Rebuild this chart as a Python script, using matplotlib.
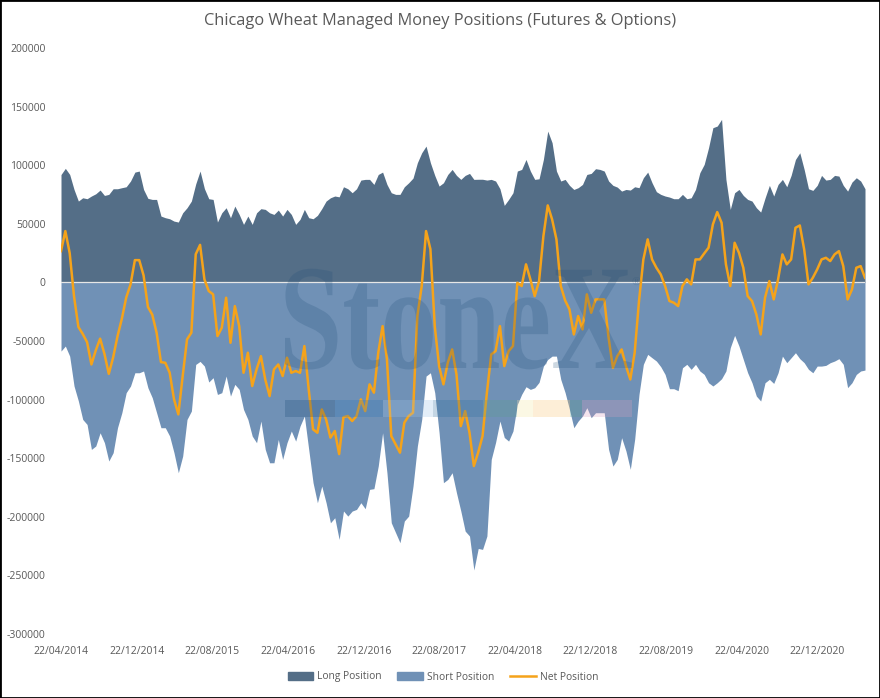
import numpy as np
import pandas as pd
import matplotlib
matplotlib.use('Agg')
import matplotlib.pyplot as plt
from matplotlib.patches import Rectangle, Patch, PathPatch
from matplotlib.lines import Line2D
from matplotlib.textpath import TextPath
from matplotlib.font_manager import FontProperties
from matplotlib.transforms import Affine2D

plt.rcParams['font.family'] = ['Open Sans', 'DejaVu Sans']

# fortnightly readings, first report 22/04/2014
start_date = '2014-04-22'

long_pos = [92000, 97300, 92100, 79300, 69400, 72200, 71400, 73700, 75600, 78800,
            74200, 75100, 79900, 79900, 80800, 81600, 86500, 94100, 95000, 79300,
            71700, 70800, 70800, 56600, 55200, 54300, 52300, 51500, 59400, 63700,
            69400, 84000, 95000, 80000, 71400, 70800, 51500, 59400, 63700, 55200,
            65100, 58000, 49500, 56600, 49500, 59400, 62900, 62300, 59400, 58000,
            61700, 56600, 62300, 58000, 49500, 53800, 62300, 55200, 54300, 57200,
            62900, 69400, 72200, 73700, 73000, 81600, 79900, 76500, 79900, 87300,
            87900, 87900, 83600, 92100, 94100, 83600, 76500, 75100, 75100, 81600,
            85000, 89000, 102100, 110600, 116300, 102100, 91300, 82200, 85000, 92100,
            96400, 91300, 87900, 91300, 93000, 87900, 88000, 88000, 87300, 87900,
            86500, 79900, 65700, 70800, 76500, 95000, 96400, 104900, 95000, 87900,
            88400, 104900, 129100, 119200, 95000, 86500, 87900, 82800, 79300, 80800,
            83600, 92100, 93000, 97000, 96400, 95000, 86500, 82800, 81300, 77900,
            79300, 78800, 81600, 80800, 89300, 94100, 85000, 77400, 75100, 73700,
            72800, 71400, 71400, 75100, 71400, 72200, 79300, 93600, 100700, 114900,
            132000, 133400, 139100, 87900, 62300, 76500, 79300, 74200, 70800, 69400,
            63700, 60000, 72000, 82800, 73700, 83600, 87900, 81600, 91300, 104900,
            110600, 96400, 79900, 78500, 82800, 91300, 87300, 87900, 91300, 90700,
            82800, 77900, 85600, 89300, 86500, 79900]

short_pos = [-58600, -54300, -62900, -88400, -101200, -116900, -121200, -142500, -139600, -128300,
             -136800, -152400, -145300, -124000, -111200, -94100, -88400, -77100, -77100, -75600,
             -89900, -98400, -111200, -124000, -124000, -131100, -145300, -162400, -148200, -116900,
             -109800, -70000, -67400, -71400, -85000, -81300, -95600, -94100, -79900, -97000,
             -87000, -91300, -108400, -116900, -131100, -136800, -118300, -142500, -153900, -153900,
             -134000, -151000, -136800, -126800, -135400, -122600, -114000, -142500, -170900, -188000,
             -173800, -188000, -205100, -200800, -219300, -195000, -199400, -195100, -193700, -188000,
             -193100, -176600, -176000, -156700, -128300, -162400, -205100, -213600, -222100, -203600,
             -199400, -173800, -139600, -116900, -79900, -77100, -94100, -128300, -170900, -168100,
             -162400, -179500, -195100, -212200, -216400, -245400, -227000, -227800, -216400, -151000,
             -136500, -118300, -132300, -135400, -126800, -104100, -95500, -89000, -91300, -89900,
             -85300, -71400, -65700, -62900, -62900, -82800, -94100, -108400, -124000, -118300,
             -114000, -106900, -115400, -111200, -111200, -111200, -142500, -156700, -151000, -132500,
             -143900, -159500, -133900, -95500, -69900, -61400, -64300, -67100, -71900, -78500,
             -90700, -90700, -92400, -72800, -69900, -74200, -69900, -75600, -78500, -85600,
             -88400, -85600, -82200, -75600, -55700, -45200, -54300, -65700, -77100, -85600,
             -97000, -101200, -85600, -82700, -86200, -77100, -62900, -68500, -64300, -60000,
             -65100, -68500, -74200, -77100, -71400, -71400, -70800, -68500, -67100, -65100,
             -69900, -89800, -85600, -78500, -75600, -74800]

net_pos = [26700, 43800, 25000, -12000, -38000, -44000, -51000, -70000, -58000, -48000,
           -61000, -78000, -64000, -46000, -31000, -13000, -1800, 19000, 19000, 6000,
           -21000, -27500, -43000, -68000, -68600, -77000, -99600, -112600, -79900, -48600,
           -42900, 24000, 32000, 2600, -7400, -10200, -45800, -38700, -13100, -51500,
           -20200, -37300, -77100, -60000, -88400, -74200, -62900, -82800, -97000, -74200,
           -70000, -79900, -64300, -77100, -75600, -77100, -54300, -91300, -125400, -128300,
           -108400, -116900, -132500, -126800, -146500, -115000, -114000, -118300, -114000, -99800,
           -109800, -87000, -94100, -60000, -37300, -65700, -131100, -138200, -145300, -119700,
           -114000, -111200, -28700, -3100, 43800, 28400, -37300, -71400, -87000, -68500,
           -57200, -78500, -122600, -109800, -128300, -156700, -145000, -131100, -94100, -61400,
           -58600, -37300, -71400, -58600, -54300, -300, -3100, 15400, 2600, -11700,
           1100, 39500, 65700, 53800, 36700, -3100, -15400, -23000, -44400, -28700,
           -40100, -10200, -25900, -14500, -14500, -14500, -47200, -72800, -62900, -57200,
           -71400, -82800, -60000, -15900, 19600, 36700, 19600, 12500, 6800, -3100,
           -15900, -17300, -20200, -3100, 2600, -1700, 19600, 19600, 24700, 29600,
           49500, 60000, 50900, 15400, -3100, 33800, 25300, 12500, -11700, -15900,
           -27300, -44400, -13000, 1100, -14500, 2600, 23900, 15400, 19600, 46600,
           48600, 28200, -1700, 4000, 11100, 19600, 21000, 18200, 23900, 26700,
           13900, -14500, -6000, 12500, 13900, 4000]

tick_labels = ['22/04/2014', '22/12/2014', '22/08/2015', '22/04/2016', '22/12/2016',
               '22/08/2017', '22/04/2018', '22/12/2018', '22/08/2019', '22/04/2020',
               '22/12/2020']
y_ticks = [200000, 150000, 100000, 50000, 0, -50000, -100000, -150000, -200000, -250000, -300000]

dates = pd.date_range(start_date, periods=len(long_pos), freq='14D')
tick_dates = pd.to_datetime(tick_labels, format='%d/%m/%Y')

long_col = '#546E87'
short_col = '#7091B6'
net_col = '#F5A31A'
txt_col = '#595959'
mark_col = '#1F4E79'

W, H = 880, 698
fig = plt.figure(figsize=(W / 100, H / 100), dpi=100)
ax = fig.add_axes([61 / W, 1 - 634 / H, (865 - 61) / W, (634 - 48) / H])

ax.fill_between(dates, 0, long_pos, color=long_col, lw=0)
ax.fill_between(dates, 0, short_pos, color=short_col, lw=0)
ax.axhline(0, color='#E6E6E6', lw=0.9)

# StoneX watermark, squeezed serif word drawn as a path
serif = FontProperties(family=['Liberation Serif', 'DejaVu Serif'], weight='bold')
word = TextPath((0, 0), 'StoneX', size=1, prop=serif)
bb = word.get_extents()
sx = (632 - 285) / W / bb.width
sy = (368 - 266) / H / 0.68
word_tr = Affine2D().translate(-bb.x0, 0).scale(sx, sy).translate(285 / W, 1 - 368 / H)
fig.patches.append(PathPatch(word_tr.transform_path(word), transform=fig.transFigure,
                             facecolor=mark_col, edgecolor='none', alpha=0.22, zorder=3))
reg = TextPath((0, 0), '\u00ae', size=1, prop=serif)
reg_tr = Affine2D().scale(12 / W, 12 / H).translate(632 / W, 1 - 285 / H)
fig.patches.append(PathPatch(reg_tr.transform_path(reg), transform=fig.transFigure,
                             facecolor=mark_col, edgecolor='none', alpha=0.22, zorder=3))
band = [(285, 335, '#1F4E79'), (335, 383, '#2E75B6'), (383, 433, '#9DC3E6'),
        (433, 483, '#2E6F9E'), (483, 517, '#5E9C8E'), (517, 533, '#F2E6A0'),
        (533, 570, '#F8C471'), (570, 582, '#5E9C8E'), (582, 632, '#D9A0C0')]
for x0, x1, c in band:
    fig.patches.append(Rectangle((x0 / W, 1 - 417 / H), (x1 - x0) / W, 17 / H,
                                 transform=fig.transFigure, color=c, alpha=0.28,
                                 lw=0, zorder=3))

ax.plot(dates, net_pos, color=net_col, lw=1.8, zorder=4)

ax.set_xlim(dates[0], dates[-1])
ax.set_ylim(-300000, 200000)
ax.set_yticks(y_ticks)
ax.set_yticklabels([str(v) for v in y_ticks])
ax.set_xticks(tick_dates)
ax.set_xticklabels(tick_labels)
ax.tick_params(axis='both', length=0, labelsize=7.5, colors=txt_col)
ax.tick_params(axis='y', pad=11)
ax.tick_params(axis='x', pad=9)
for s in ax.spines.values():
    s.set_visible(False)

fig.text(440 / W, 1 - 21 / H, 'Chicago Wheat Managed Money Positions (Futures & Options)',
         ha='center', va='center', fontsize=11.8, color=txt_col)

handles = [Patch(color=long_col, label='Long Position'),
           Patch(color=short_col, label='Short Position'),
           Line2D([], [], color=net_col, lw=1.8, label='Net Position')]
fig.legend(handles=handles, loc='center', bbox_to_anchor=(443 / W, 1 - 677 / H), ncol=3,
           frameon=False, fontsize=7.4, labelcolor=txt_col, handlelength=2.5,
           handleheight=0.7, columnspacing=1.5, handletextpad=0.4)

fig.patches.append(Rectangle((0, 0), 1, 1, transform=fig.transFigure, fill=False,
                             edgecolor='black', lw=2.0))

fig.savefig('out.png', dpi=100)
